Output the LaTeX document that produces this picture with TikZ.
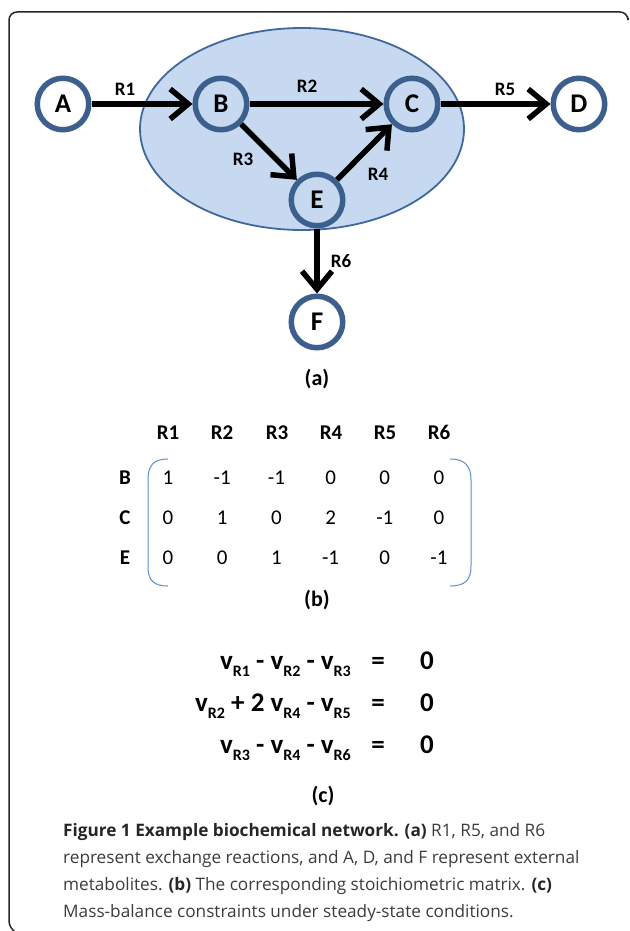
\documentclass[tikz,border=0pt]{standalone}
\usepackage{fontspec}
\setmainfont{Carlito}
\newfontfamily\capfont{Open Sans}
\usetikzlibrary{arrows.meta}
\definecolor{ringblue}{RGB}{61,95,141}
\definecolor{poolfill}{RGB}{198,217,240}
\definecolor{poolline}{RGB}{65,104,154}
\definecolor{brblue}{RGB}{91,140,203}
\definecolor{capgray}{RGB}{60,60,60}
\newcommand{\mysub}[1]{\raisebox{-0.28em}{\fontsize{16}{16}\selectfont #1}}
\tikzset{
  met/.style={circle, draw=ringblue, line width=5.5pt, minimum size=51.5pt, inner sep=0pt, outer sep=2.75pt, font=\fontsize{27}{29}\selectfont\bfseries},
  extmet/.style={met, fill=white},
  intmet/.style={met, fill=poolfill},
  rxn/.style={line width=5.5pt, -{Straight Barb[length=18pt,width=30pt]}},
  rlab/.style={font=\fontsize{19}{21}\selectfont\bfseries, text height=1.4ex, text depth=0pt},
  hdr/.style={font=\fontsize{21}{23}\selectfont\bfseries, text height=1.4ex, text depth=0pt},
  ent/.style={font=\fontsize{21}{23}\selectfont, text height=1.4ex, text depth=0pt},
  sublab/.style={font=\fontsize{22}{24}\selectfont\bfseries},
  eqn/.style={font=\fontsize{27}{29}\selectfont\bfseries, inner sep=0pt},
  capline/.style={anchor=west, inner sep=0pt, text=capgray, font=\capfont\fontsize{17.2}{20}\selectfont}
}
\begin{document}
\begin{tikzpicture}[x=1pt,y=-1pt]
\useasboundingbox (0,0) rectangle (629,931);
% frame
\draw[line width=1.5pt, color=black!85, rounded corners=8pt] (628,18) -- (628,12) -- (9,12) -- (9,929) -- (13,931);
% pool
\draw[fill=poolfill, draw=poolline, line width=1.8pt] (302,129) ellipse [x radius=162, y radius=101];
% metabolites
\node[extmet] (A) at (63,104) {A};
\node[intmet] (B) at (221,104) {B};
\node[intmet] (C) at (412,104) {C};
\node[extmet] (D) at (579,104) {D};
\node[intmet] (E) at (317,200) {E};
\node[extmet] (F) at (317,322) {F};
% reactions
\draw[rxn] (A) -- (B);
\draw[rxn] (B) -- (C);
\draw[rxn] (C) -- (D);
\draw[rxn] (B) -- (E);
\draw[rxn] (E) -- (C);
\draw[rxn] (E) -- (F);
\node[rlab] (r1) at (125,92) {R1};
\node[rlab] (r2) at (307,89) {R2};
\node[rlab] (r5) at (505,92) {R5};
\node[rlab] (r3) at (243,162) {R3};
\node[rlab] (r4) at (378,177) {R4};
\node[rlab] (r6) at (341,264) {R6};
\node[sublab] (la) at (317,379) {(a)};
% matrix
\foreach \x/\t [count=\i] in {168/R1,222/R2,277/R3,331/R4,385/R5,439/R6}
  \node[hdr] (h\i) at (\x,436) {\t};
\node[hdr] (rB) at (125,481) {B};
\node[hdr] (rC) at (125,521) {C};
\node[hdr] (rE) at (125,561) {E};
\foreach \v [count=\i, evaluate=\i as \x using {168+(\i-1)*54.2}] in {1,-1,-1,0,0,0}
  \node[ent] (mB\i) at (\x,481) {\v};
\foreach \v [count=\i, evaluate=\i as \x using {168+(\i-1)*54.2}] in {0,1,0,2,-1,0}
  \node[ent] (mC\i) at (\x,521) {\v};
\foreach \v [count=\i, evaluate=\i as \x using {168+(\i-1)*54.2}] in {0,0,1,-1,0,-1}
  \node[ent] (mE\i) at (\x,561) {\v};
\draw[brblue, line width=1pt] (168,459) .. controls (153,459) and (148,466) .. (148,480) -- (148,566) .. controls (148,580) and (153,586) .. (168,586);
\draw[brblue, line width=1pt] (450,459) .. controls (465,459) and (471,466) .. (471,480) -- (471,566) .. controls (471,580) and (465,586) .. (450,586);
\node[sublab] (lb) at (317,600) {(b)};
% equations
\node[eqn, anchor=base east] (e1) at (351,669) {v\mysub{R1} - v\mysub{R2} - v\mysub{R3}};
\node[eqn, anchor=base east] (e2) at (351,711) {v\mysub{R2} + 2 v\mysub{R4} - v\mysub{R5}};
\node[eqn, anchor=base east] (e3) at (351,753) {v\mysub{R3} - v\mysub{R4} - v\mysub{R6}};
\foreach \y [count=\i] in {669,711,753} {
  \node[eqn, anchor=base] (q\i) at (378,\y) {=};
  \node[eqn, anchor=base] (z\i) at (427,\y) {0};
}
\node[sublab] (lc) at (323,796) {(c)};
% caption
\node[capline] (c1) at (63,832) {\textbf{\color{black!85}Figure 1 Example biochemical network. (a)} R1, R5, and R6};
\node[capline] (c2) at (63,859) {represent exchange reactions, and A, D, and F represent external};
\node[capline] (c3) at (63,886) {metabolites. \textbf{\color{black!85}(b)} The corresponding stoichiometric matrix. \textbf{\color{black!85}(c)}};
\node[capline] (c4) at (63,913) {Mass-balance constraints under steady-state conditions.};
\end{tikzpicture}
\end{document}
